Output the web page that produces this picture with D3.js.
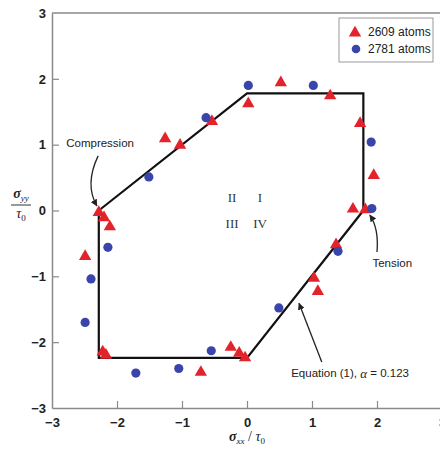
<!DOCTYPE html>
<html>
<head>
<meta charset="utf-8">
<script src="https://cdn.jsdelivr.net/npm/d3@7"></script>
<style>
  html, body { margin: 0; padding: 0; background: #fff; }
  svg { display: block; }
  .tick text { font-family: "Liberation Sans Narrow", "Liberation Sans", Arial, sans-serif; font-size: 13px; fill: #222; }
</style>
</head>
<body>
<svg id="chart" width="440" height="450"></svg>
<script>
// Yield surface (normalised stresses) and simulated yield points
const polygonX = [-2.28, 0.0, 1.79, 1.79, 0.0, -2.28, -2.28];
const polygonY = [0.0, 1.78, 1.78, 0.0, -2.24, -2.24, 0.0];

const atoms2609X = [-1.26, -1.03, -2.28, -2.20, -2.11, -2.49, -2.22, -2.17, -0.71, -0.25, -0.12, -0.03,
                    1.03, 1.09, 1.37, 0.52, 1.28, 0.02, -0.54, 1.74, 1.95, 1.63, 1.82];
const atoms2609Y = [1.10, 1.00, -0.02, -0.10, -0.24, -0.69, -2.14, -2.19, -2.45, -2.07, -2.16, -2.23,
                    -1.02, -1.22, -0.51, 1.95, 1.75, 1.63, 1.36, 1.33, 0.54, 0.03, 0.02];

const atoms2781X = [-1.51, -2.14, -2.40, -2.49, -1.71, -1.05, -0.55, 0.49, 1.40, 0.02, 1.02, -0.63, 1.91, 1.92];
const atoms2781Y = [0.51, -0.56, -1.04, -1.70, -2.47, -2.40, -2.13, -1.48, -0.62, 1.90, 1.90, 1.41, 1.04, 0.03];

const tickValues = [-3, -2, -1, 0, 1, 2, 3];
const seriesNames = ["2609 atoms", "2781 atoms"];
const quadrantLabels = [["II", -0.23, 0.2], ["I", 0.2, 0.2], ["III", -0.23, -0.2], ["IV", 0.2, -0.2]];

const svg = d3.select("#chart");
const x = d3.scaleLinear().domain([-3, 3]).range([52, 442]);
const y = d3.scaleLinear().domain([-3, 3]).range([408, 13]);

const sans = '"Liberation Sans Narrow", "Liberation Sans", Arial, sans-serif';
const serif = '"Liberation Serif", "DejaVu Serif", serif';
const axisColor = "#8a8a8a";
const red = "#e3232b";
const blue = "#3a45ab";

// Frame: left, bottom and top lines
svg.append("line").attr("x1", x(-3)).attr("x2", x(3)).attr("y1", y(3)).attr("y2", y(3))
  .attr("stroke", axisColor).attr("stroke-width", 1.5);

const xAxis = d3.axisBottom(x).tickValues(tickValues).tickSizeInner(-7).tickSizeOuter(0)
  .tickPadding(14).tickFormat(d => d < 0 ? "\u2212" + Math.abs(d) : d);
const yAxis = d3.axisLeft(y).tickValues(tickValues).tickSizeInner(-7).tickSizeOuter(0)
  .tickPadding(14).tickFormat(d => d < 0 ? "\u2212" + Math.abs(d) : d);

const gx = svg.append("g").attr("transform", `translate(0,${y(-3)})`).call(xAxis);
const gy = svg.append("g").attr("transform", `translate(${x(-3)},0)`).call(yAxis);
[gx, gy].forEach(g => {
  g.select(".domain").attr("stroke", axisColor).attr("stroke-width", 1.5);
  g.selectAll(".tick line").attr("stroke", axisColor).attr("stroke-width", 1.2);
  g.selectAll(".tick text").attr("font-weight", "bold").attr("fill", "#333");
});
gy.selectAll(".tick").filter(d => d === -3).select("line").remove();
gx.selectAll(".tick").filter(d => d === -3).select("line").remove();
gy.selectAll(".tick").filter(d => d === 3).select("line").remove();
gx.selectAll(".tick text").attr("dy", "0.35em").attr("y", 14);
gy.selectAll(".tick text").attr("x", -6);

// Yield surface polygon
const line = d3.line().x(d => x(d[0])).y(d => y(d[1]));
svg.append("path")
  .datum(polygonX.map((v, i) => [v, polygonY[i]]))
  .attr("d", line).attr("fill", "none").attr("stroke", "#111").attr("stroke-width", 2.2)
  .attr("stroke-linejoin", "miter");

// Quadrant labels
svg.selectAll("text.quad").data(quadrantLabels).join("text")
  .attr("class", "quad")
  .attr("x", d => x(d[1])).attr("y", d => y(d[2]))
  .attr("text-anchor", "middle").attr("dominant-baseline", "central")
  .attr("font-family", serif).attr("font-size", 13).attr("fill", "#333")
  .text(d => d[0]);

// Data markers
const tri = d3.symbol().type(d3.symbolTriangle).size(66);
svg.append("g").selectAll("path")
  .data(atoms2609X.map((v, i) => [v, atoms2609Y[i]]))
  .join("path")
  .attr("d", tri)
  .attr("transform", d => `translate(${x(d[0])},${y(d[1]) + 0.5})`)
  .attr("fill", red);

svg.append("g").selectAll("circle")
  .data(atoms2781X.map((v, i) => [v, atoms2781Y[i]]))
  .join("circle")
  .attr("cx", d => x(d[0])).attr("cy", d => y(d[1])).attr("r", 4.6)
  .attr("fill", blue);

// Arrow marker
svg.append("defs").append("marker")
  .attr("id", "head").attr("viewBox", "0 0 10 10").attr("refX", 9).attr("refY", 5)
  .attr("markerWidth", 7).attr("markerHeight", 7).attr("orient", "auto-start-reverse")
  .attr("markerUnits", "userSpaceOnUse")
  .append("path").attr("d", "M0,0 L10,5 L0,10 z").attr("fill", "#222");

// Annotations
svg.append("text").attr("x", x(-2.26)).attr("y", y(1.03))
  .attr("text-anchor", "middle").attr("dominant-baseline", "central")
  .attr("font-family", sans).attr("font-size", 11.5).attr("fill", "#222").text("Compression");
svg.append("path")
  .attr("d", `M${x(-2.29)},${y(0.83)} Q${x(-2.5)},${y(0.4)} ${x(-2.31)},${y(0.07)}`)
  .attr("fill", "none").attr("stroke", "#222").attr("stroke-width", 1.3)
  .attr("marker-end", "url(#head)");

svg.append("text").attr("x", x(1.93)).attr("y", y(-0.79))
  .attr("dominant-baseline", "central")
  .attr("font-family", sans).attr("font-size", 11.5).attr("fill", "#222").text("Tension");
svg.append("path")
  .attr("d", `M${x(2.0)},${y(-0.63)} Q${x(2.03)},${y(-0.27)} ${x(1.89)},${y(-0.07)}`)
  .attr("fill", "none").attr("stroke", "#222").attr("stroke-width", 1.3)
  .attr("marker-end", "url(#head)");

const eq = svg.append("text").attr("x", x(0.68)).attr("y", y(-2.47))
  .attr("dominant-baseline", "central")
  .attr("font-family", sans).attr("font-size", 11.5).attr("fill", "#222");
eq.append("tspan").text("Equation (1), ");
eq.append("tspan").attr("font-family", serif).attr("font-style", "italic").attr("font-size", 13).text("\u03B1");
eq.append("tspan").text(" = 0.123");
svg.append("path")
  .attr("d", `M${x(1.15)},${y(-2.3)} L${x(0.8)},${y(-1.41)}`)
  .attr("fill", "none").attr("stroke", "#222").attr("stroke-width", 1.3)
  .attr("marker-end", "url(#head)");

// Axis titles
const xt = svg.append("text").attr("x", x(0)).attr("y", 441)
  .attr("text-anchor", "middle").attr("font-family", serif).attr("font-size", 14).attr("fill", "#222");
xt.append("tspan").attr("font-style", "italic").attr("font-weight", "bold").text("\u03C3");
xt.append("tspan").attr("font-style", "italic").attr("font-size", 9).attr("dy", 3).text("xx");
xt.append("tspan").attr("dy", -3).text(" / ");
xt.append("tspan").attr("font-style", "italic").text("\u03C4");
xt.append("tspan").attr("font-size", 9).attr("dy", 3).text("0");

const yl = svg.append("g").attr("transform", "translate(21,0)");
const yn = yl.append("text").attr("y", 198).attr("text-anchor", "middle")
  .attr("font-family", serif).attr("font-size", 14).attr("fill", "#222");
yn.append("tspan").attr("font-style", "italic").attr("font-weight", "bold").text("\u03C3");
yn.append("tspan").attr("font-style", "italic").attr("font-size", 9).attr("dy", 3).text("yy");
yl.append("line").attr("x1", -10).attr("x2", 10).attr("y1", 205).attr("y2", 205)
  .attr("stroke", "#333").attr("stroke-width", 1);
const yd = yl.append("text").attr("y", 218).attr("text-anchor", "middle")
  .attr("font-family", serif).attr("font-size", 14).attr("fill", "#222");
yd.append("tspan").attr("font-style", "italic").text("\u03C4");
yd.append("tspan").attr("font-size", 9).attr("dy", 3).text("0");

// Legend
const lg = svg.append("g").attr("transform", "translate(339,18)");
lg.append("rect").attr("width", 94).attr("height", 44)
  .attr("fill", "#fff").attr("stroke", "#999").attr("stroke-width", 1);
lg.append("path").attr("d", tri).attr("transform", "translate(16,15)").attr("fill", red);
lg.append("circle").attr("cx", 17).attr("cy", 31).attr("r", 4.3).attr("fill", blue);
lg.selectAll("text.leg").data(seriesNames).join("text")
  .attr("class", "leg")
  .attr("x", 29).attr("y", (d, i) => 14 + i * 17)
  .attr("dominant-baseline", "central")
  .attr("font-family", sans).attr("font-size", 12).attr("fill", "#222")
  .text(d => d);
</script>
</body>
</html>
